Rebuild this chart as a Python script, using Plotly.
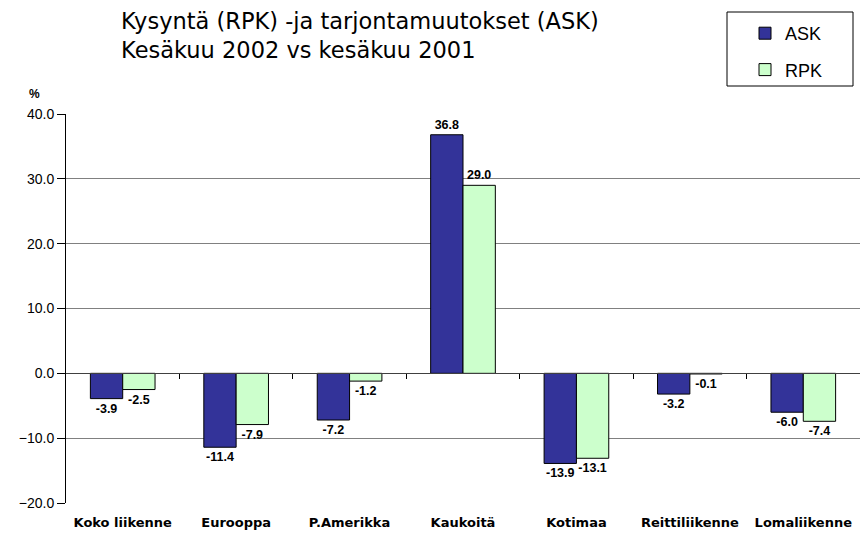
import plotly.graph_objects as go

categories = ["Koko liikenne", "Eurooppa", "P.Amerikka", "Kaukoitä", "Kotimaa", "Reittiliikenne", "Lomaliikenne"]
ask = [-3.9, -11.4, -7.2, 36.8, -13.9, -3.2, -6.0]
rpk = [-2.5, -7.9, -1.2, 29.0, -13.1, -0.1, -7.4]
y_ticks = [-20, -10, 0, 10, 20, 30, 40]
title_lines = ["Kysyntä (RPK) -ja tarjontamuutokset (ASK)", "Kesäkuu 2002 vs kesäkuu 2001"]

W, H = 861, 534
L, R, T, B = 66, 1, 114, 31
PW, PH = W - L - R, H - T - B


def px_x(px):
    return (px - L) / PW


def px_y(py):
    return 1 + (T - py) / PH


lab_font = dict(family="Liberation Sans, Arial", size=12.5, color="black")

fig = go.Figure()
fig.add_trace(go.Bar(name="ASK", x=categories, y=ask, legendgroup="a",
                     marker=dict(color="#333399", line=dict(color="black", width=1)),
                     text=[f"{v:.1f}" for v in ask], textposition="outside", textfont=lab_font,
                     texttemplate="<b>%{text}</b>", cliponaxis=False))
fig.add_trace(go.Bar(name="RPK", x=categories, y=rpk, legendgroup="b",
                     marker=dict(color="#CCFFCC", line=dict(color="black", width=1)),
                     text=[f"{v:.1f}" for v in rpk], textposition="outside", textfont=lab_font,
                     texttemplate="<b>%{text}</b>", cliponaxis=False))
# invisible helper trace for the zero-line tick axis
fig.add_trace(go.Scatter(x=[0], y=[0], xaxis="x2", mode="markers", marker=dict(opacity=0),
                         showlegend=False, hoverinfo="skip"))

title_font = dict(family="DejaVu Sans", size=22.5, color="black")
annotations = [
    dict(text="<br>".join(title_lines), x=px_x(119), y=px_y(35), xref="paper", yref="paper",
         xanchor="left", yanchor="middle", align="left", showarrow=False, font=title_font),
    dict(text="<b>%</b>", x=px_x(27), y=px_y(94), xref="paper", yref="paper",
         xanchor="left", yanchor="middle", showarrow=False,
         font=dict(family="Liberation Sans, Arial", size=12)),
]

fig.update_layout(
    width=W, height=H,
    margin=dict(l=L, r=R, t=T, b=B),
    paper_bgcolor="white", plot_bgcolor="white",
    barmode="group", bargap=0.43, bargroupgap=0,
    font=dict(family="Liberation Sans, Arial", color="black"),
    legend=dict(x=px_x(745), y=px_y(15), xanchor="left", yanchor="top",
                borderwidth=0, bgcolor="rgba(0,0,0,0)", traceorder="grouped",
                tracegroupgap=10,
                font=dict(family="Liberation Sans, Arial", size=18), itemwidth=30),
    shapes=[dict(type="rect", xref="paper", yref="paper",
                 x0=px_x(727), x1=px_x(853), y0=px_y(86), y1=px_y(12),
                 line=dict(color="black", width=1), fillcolor="rgba(0,0,0,0)")],
    xaxis=dict(type="category", showline=False, ticks="", showgrid=False,
               tickfont=dict(family="DejaVu Sans", size=13, color="black"),
               ticklabelstandoff=10, tickprefix="<b>", ticksuffix="</b>"),
    xaxis2=dict(overlaying="x", anchor="free", position=1 / 3, range=[-0.5, 6.5],
                tickvals=[0.5, 1.5, 2.5, 3.5, 4.5, 5.5], ticks="outside", ticklen=5,
                tickcolor="black", showline=True, linecolor="#404040", linewidth=1,
                showticklabels=False, showgrid=False, zeroline=False),
    yaxis=dict(range=[-20, 40], tickvals=y_ticks, tickformat=".1f", showgrid=True,
               gridcolor="#808080", gridwidth=1, zeroline=False, showline=True,
               linecolor="black", ticks="outside", ticklen=8, tickcolor="black",
               tickfont=dict(family="Liberation Sans, Arial", size=14, color="black")),
    annotations=annotations,
)
fig.write_html("out.html", config={"displayModeBar": False},
               post_script="document.body.style.margin='0px';")
